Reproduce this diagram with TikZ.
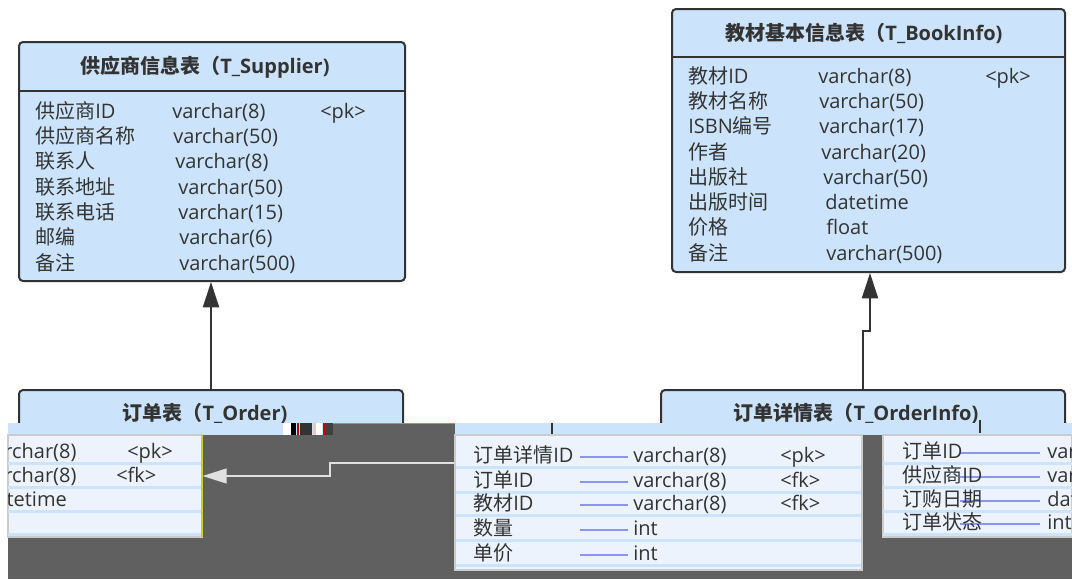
\documentclass[tikz,border=0pt]{standalone}
\usepackage{fontspec}
\setmainfont{Open Sans}
\newfontfamily\cjkfont{Noto Sans CJK SC}
\newcommand\zh[1]{{\cjkfont #1}}
\usetikzlibrary{arrows.meta,fit}
\definecolor{tblfill}{RGB}{204,228,251}
\definecolor{tblline}{RGB}{51,51,51}
\definecolor{txt}{RGB}{51,51,51}
\definecolor{band}{RGB}{96,96,96}
\definecolor{glow}{RGB}{224,224,224}
\definecolor{peri}{RGB}{140,150,240}
\definecolor{glitchbg}{RGB}{236,243,253}
\tikzset{
  tbl/.style={draw=tblline, line width=1.5pt, fill=tblfill, rounded corners=3pt, inner sep=0pt},
  gbox/.style={draw=black!20, line width=0.8pt, fill=glitchbg, inner sep=0pt},
  ttl/.style={font=\fontsize{15}{18}\selectfont\bfseries, text=txt, inner sep=0pt},
  cell/.style={font=\fontsize{15}{18}\selectfont, text=txt, inner sep=0pt, anchor=base west},
  hdr/.style={draw=tblline, line width=1.5pt},
  fk/.style={draw=tblline, line width=1.5pt, -{Triangle[length=19pt,width=12pt]}},
  fkg/.style={draw=glow, line width=1.5pt, -{Triangle[length=18pt,width=11pt]}},
  rowband/.style={fill=tblfill},
  rowline/.style={draw=peri, line width=1.2pt},
}
\newcommand\orderbody[2]{%
  \begin{scope}[shift={(#1,0)}]
    \foreach \n/\y/\a/\b/\c/\xc in {1/451/\zh{订单}ID/varchar(8)/<pk>/1191,
                                 2/475/\zh{供应商}ID/varchar(8)/<fk>/1180,
                                 3/499/\zh{订购日期}/datetime//1180,
                                 4/522/\zh{订单状态}/int//1180}{
      \fill[rowband] (870,\y+11) rectangle (1300,\y+14);
      \draw[rowline] (960,\y+2) -- (1040,\y+2);
      \node[cell] (#2\n a) at (902,\y+7) {\a};
      \node[cell] (#2\n b) at (1047,\y+7) {\b};
      \node[cell] (#2\n c) at (\xc,\y+7) {\c};
    }
  \end{scope}}
\begin{document}
\begin{tikzpicture}[x=0.75pt,y=-0.75pt]
\useasboundingbox (0,0) rectangle (1072,579);
\fill[white] (0,0) rectangle (1072,579);

% ---------- T_Supplier ----------
\node[tbl, fit={(19,42) (405,281)}] (sup) {};
\draw[hdr] (sup.west |- 0,91) -- (sup.east |- 0,91);
\node[ttl] (supt) at (205,67) {\zh{供应商信息表（}T\_Supplier)};
\foreach \n/\y/\a/\xb/\b in {1/111/\zh{供应商}ID/172/varchar(8),
                             2/136/\zh{供应商名称}/173/varchar(50),
                             3/161/\zh{联系人}/175/varchar(8),
                             4/187/\zh{联系地址}/178/varchar(50),
                             5/212/\zh{联系电话}/178/varchar(15),
                             6/237/\zh{邮编}/179/varchar(6),
                             7/263/\zh{备注}/179/varchar(500)}{
  \node[cell] (s\n a) at (35,\y+7) {\a};
  \node[cell] (s\n b) at (\xb,\y+7) {\b};
}
\node[cell] (s1c) at (320,118) {<pk>};

% ---------- T_BookInfo ----------
\node[tbl, fit={(672,9) (1065,272)}] (bk) {};
\draw[hdr] (bk.west |- 0,57) -- (bk.east |- 0,57);
\node[ttl] (bkt) at (864,33) {\zh{教材基本信息表（}T\_BookInfo)};
\foreach \n/\y/\a/\xb/\b in {1/76/\zh{教材}ID/818/varchar(8),
                             2/101/\zh{教材名称}/819/varchar(50),
                             3/126/ISBN\zh{编号}/819/varchar(17),
                             4/152/\zh{作者}/821/varchar(20),
                             5/177/\zh{出版社}/823/varchar(50),
                             6/202/\zh{出版时间}/825/datetime,
                             7/227/\zh{价格}/826/float,
                             8/253/\zh{备注}/826/varchar(500)}{
  \node[cell] (b\n a) at (688,\y+7) {\a};
  \node[cell] (b\n b) at (\xb,\y+7) {\b};
}
\node[cell] (b1c) at (985,83) {<pk>};

% ---------- lower headers ----------
\node[tbl, fit={(19,390) (403,460)}] (ord) {};
\node[ttl] (ordt) at (205,413) {\zh{订单表（}T\_Order)};
\node[tbl, fit={(661,390) (1065,460)}] (oi) {};
\node[ttl] (oit) at (856,413) {\zh{订单详情表（}T\_OrderInfo)};

% ---------- connectors (top) ----------
\draw[fk] (ord.north -| 211,0) -- (sup.south -| 211,0);
\draw[fk] (oi.north -| 863,0) -- (863,331) -- (870,331) -- (bk.south -| 870,0);

% ---------- glitched band ----------
\fill[band] (8,435) rectangle (1072,579);
\fill[band] (333,423) rectangle (455,435);
\fill[tblfill] (8,423) rectangle (283,435);
\fill[tblfill] (455,423) rectangle (1072,435);
\fill[white] (283,423) rectangle (291,435);
\fill[black] (291,423) rectangle (296,435);
\fill[red!70!black] (297,423) rectangle (299,435);
\fill[black!80] (300,423) rectangle (312,435);
\fill[pink] (313,423) rectangle (316,435);
\fill[white] (316,423) rectangle (322,435);
\fill[red!80!black] (323,423) rectangle (325,435);
\fill[black!75] (325,423) rectangle (333,435);
\draw[red!60, line width=0.6pt] (333,423.5) -- (455,423.5);
\draw[tblline, line width=1.2pt] (552,423) -- (552,437);
\draw[tblline, line width=1.2pt] (980,420) -- (980,433);

% T_Order body, wrapped: right part and left part
\node[gbox, fit={(883,435) (1072,537)}] (obr) {};
\node[gbox, fit={(8,435) (202,537)}] (obl) {};
\begin{scope}
  \clip (883,435) rectangle (1072,537);
  \orderbody{0}{oa}
\end{scope}
\begin{scope}
  \clip (8,435) rectangle (202,537);
  \orderbody{-1064}{ob}
\end{scope}
\draw[yellow!80!black, line width=0.8pt] (202,435) -- (202,537);

% T_OrderInfo body, shifted
\node[gbox, fit={(455,435) (862,570)}] (oib) {};
\foreach \n/\y/\a/\b/\c in {1/455/\zh{订单详情}ID/varchar(8)/<pk>,
                           2/480/\zh{订单}ID/varchar(8)/<fk>,
                           3/503/\zh{教材}ID/varchar(8)/<fk>,
                           4/528/\zh{数量}/int/,
                           5/553/\zh{单价}/int/}{
  \fill[rowband] (456,\y+11) rectangle (861,\y+14);
  \draw[rowline] (580,\y+2) -- (628,\y+2);
  \node[cell] (m\n a) at (473,\y+7) {\a};
  \node[cell] (m\n b) at (633,\y+7) {\b};
  \node[cell] (m\n c) at (780,\y+7) {\c};
}

% connector in band
\draw[fkg] (oib.west |- 0,463) -- (330,463) -- (330,476) -- (obl.east |- 0,476);
\end{tikzpicture}
\end{document}
